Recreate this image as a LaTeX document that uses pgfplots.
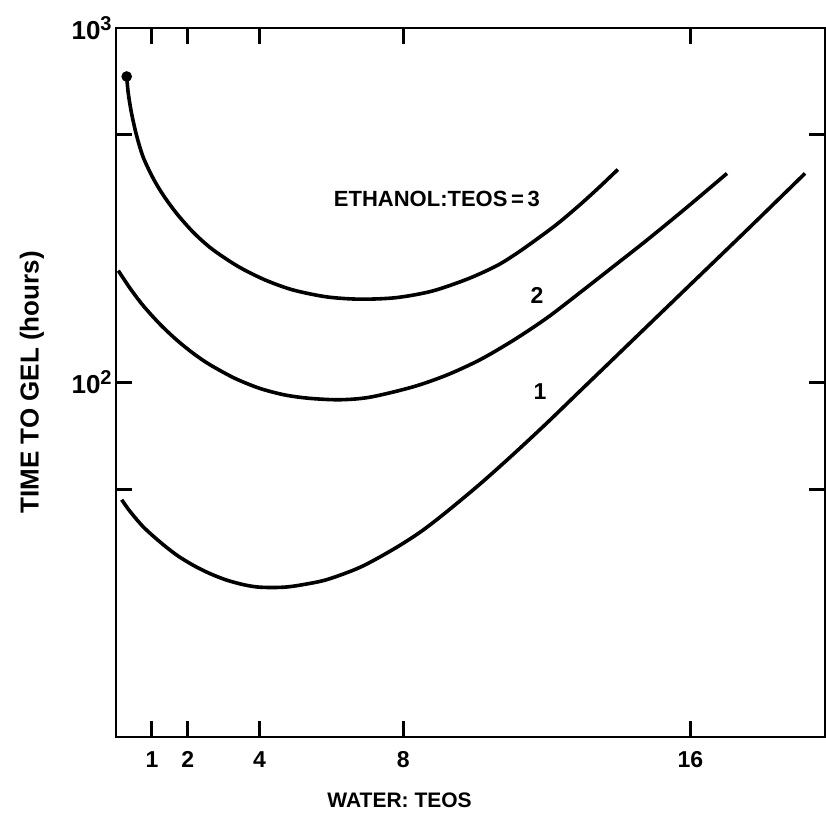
\documentclass[border=0pt]{standalone}
\usepackage{fontspec}
\setmainfont{Liberation Sans}
\usepackage{pgfplots}
\pgfplotsset{compat=1.18}
\newcommand\tenp[1]{10\raisebox{0.65ex}{\fontsize{10}{11}\selectfont #1}}
\begin{document}
\begin{tikzpicture}
\begin{axis}[name=ax,
  scale only axis, width=354.5pt, height=354.5pt,
  xmin=0, xmax=19.75,
  ymode=log, ymin=10, ymax=1000,
  axis line style={line width=1.4pt},
  every tick/.style={line width=1.4pt, black},
  tick align=inside, major tick length=8pt,
  yminorticks=false, xminorticks=false,
  xtick={1,2,4,8,16}, xticklabels={1,2,4,8,16},
  ytick={50,100,500,1000},
  yticklabels={,{\tenp{2}},,{\tenp{3}}},
  /pgf/number format/assume math mode=true,
  tick label style={font=\bfseries\fontsize{11.5}{13}\selectfont},
  yticklabel style={inner sep=0pt, font=\bfseries\fontsize{13}{15}\selectfont},
  xticklabel style={inner sep=0pt}, xticklabel shift=7pt,
  yticklabel shift=2pt,
  clip=false,
]
\addplot[black, line width=1.8pt, smooth, tension=0.5, mark=*, mark indices={1}, mark size=1.7pt] coordinates {
(0.298,729.8)(0.343,652.9)(0.437,572.1)(0.577,495.8)(0.760,431.5)(1.039,376.1)(1.318,337.5)(1.691,299.6)(2.153,265.2)(2.618,240.4)(3.084,222.6)(3.546,208.5)(4.198,193.8)(4.939,182.3)(5.869,174.4)(6.797,171.8)(7.8,173.5)(8.8,181)(9.8,196)(10.61,213.6)(11.17,231.6)(11.73,254)(12.31,281)(12.92,317)(13.45,354.6)(13.98,399)
};
\addplot[black, line width=1.8pt, smooth, tension=0.5] coordinates {
(0.064,206.8)(0.390,184.5)(0.760,164.6)(1.226,146.0)(1.691,131.8)(2.153,120.8)(2.618,112.2)(3.315,102.7)(4.011,96.2)(4.708,92.2)(5.404,90.2)(6.240,89.4)(7.075,90.9)(8.273,97.2)(9.220,105.0)(10.139,115.9)(11.058,131.3)(12.005,152.1)(12.925,179.3)(13.844,212.0)(14.791,252.2)(15.905,312.1)(17.019,388.8)
};
\addplot[black, line width=1.8pt, smooth, tension=0.5] coordinates {
(0.159,46.7)(0.390,43.3)(0.760,39.15)(1.226,35.5)(1.691,32.6)(2.153,30.5)(2.618,28.9)(3.084,27.7)(3.546,26.9)(3.928,26.5)(4.345,26.4)(4.763,26.5)(5.209,26.9)(5.877,27.8)(6.797,30.1)(7.716,33.8)(8.468,37.8)(9.164,42.8)(10.139,51.7)(11.058,62.6)(12.005,76.9)(12.925,94.6)(13.844,116.3)(15.710,177.0)(17.577,269.3)(19.192,388.8)
};
\node[font=\bfseries\fontsize{11}{13}\selectfont] at (axis cs:8.94,330) {ETHANOL:TEOS\,=\,3};
\node[font=\bfseries\fontsize{11.5}{13}\selectfont] at (axis cs:11.73,176) {2};
\node[font=\bfseries\fontsize{11.5}{13}\selectfont] at (axis cs:11.81,94.3) {1};
\node[font=\bfseries\fontsize{10.5}{12}\selectfont] at (axis description cs:0.40,-0.0889) {WATER: TEOS};
\node[rotate=90, font=\bfseries\fontsize{13}{15}\selectfont] at (axis description cs:-0.1185,0.5) {TIME TO GEL (hours)};
\end{axis}
\pgfresetboundingbox
\path[use as bounding box] ([shift={(-58pt,-40.5pt)}]ax.south west) rectangle ([shift={(0.5pt,14pt)}]ax.north east);
\end{tikzpicture}
\end{document}
